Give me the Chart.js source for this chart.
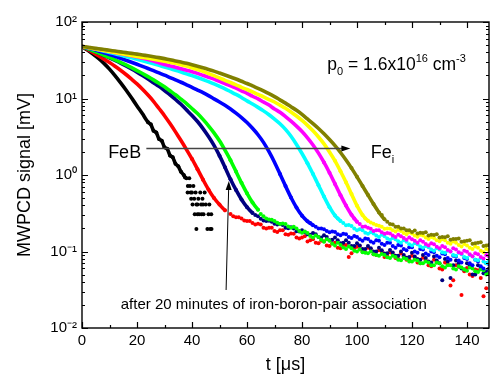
<!DOCTYPE html>
<html>
<head>
<meta charset="utf-8">
<script src="https://cdn.jsdelivr.net/npm/chart.js@4.4.1/dist/chart.umd.min.js"></script>
<style>
  body { margin: 0; background: #fff; }
  canvas { display: block; }
</style>
</head>
<body>
<canvas id="myChart" width="491" height="374"></canvas>
<script>
// time axis in microseconds (shared by all curves except the black one)
const time = [0,2,4,6,8,10,12,14,16,18,20,22,24,26,28,30,32,34,36,38,40,42,44,46,48,50,52,54,56,58,60,62,64,66,68,70,72,74,76,78,80,82,84,86,88,90,92,94,96,98,100,102,104,106,108,110,112,114,116,118,120,122,124,126,128,130,132,134,136,138,140,142,144,146,148];
// extra noisy samples in the flat tails, at the odd microseconds
const tailTime = [55,57,59,61,63,65,67,69,71,73,75,77,79,81,83,85,87,89,91,93,95,97,99,101,103,105,107,109,111,113,115,117,119,121,123,125,127,129,131,133,135,137,139,141,143,145,147];

// black curve has its own time points, the end is the quantized noise cloud
const blackTime = [0,2,4,6,8,10,12,14,16,18,20,22,24,25,26,27,28,29,30,31,32,33,34,35,36,37,37.5,
  38,38.5,39,38.4,39.3,39.7,40,40.2,40.5,40.8,41,41.3,41.6,42,42.3,42.6,43,43.3,43.8,44.2,44.6,45,45.6,46,46.3,46.6,47,47.1,44,41.6,42,39.5,43.5];
const blackSignal = [48,43,38.1,33.4,28.8,24.2,19.9,16.1,12.9,10.2,8.0,6.3,4.9,4.6,3.8,3.6,2.95,2.8,2.3,2.2,1.8,1.7,1.4,1.3,1.1,1.0,0.93,
  0.905,0.72,0.905,0.59,0.72,0.49,0.59,0.41,0.72,0.49,0.306,0.59,0.197,0.41,0.49,0.306,0.59,0.41,0.49,0.306,0.59,0.41,0.197,0.306,0.41,0.197,0.306,0.197,0.41,0.41,0.306,0.59,0.306];

const redSignal = [48,43.8,39.9,36.2,32.7,29.5,26.4,23.4,20.6,17.9,
  15.5,13.2,11.1,9.2,7.4,5.96,4.7,3.66,2.82,2.15,
  1.62,1.19,0.87,0.645,0.5,0.41,0.345,0.31,0.28,0.27,
  0.25,0.235,0.23,0.205,0.205,0.185,0.19,0.168,0.172,0.152,
  0.152,0.135,0.145,0.128,0.136,0.118,0.13,0.11,0.122,0.095,
  0.115,0.1,0.112,0.092,0.104,0.085,0.098,0.082,0.094,0.078,
  0.088,0.072,0.083,0.066,0.078,0.06,0.072,0.036,0.066,0.027,
  0.061,0.048,0.057,0.026,0.052];
const redTail = [0.29,0.28,0.255,0.25,0.225,0.225,0.2,0.205,0.18,0.19,
  0.165,0.17,0.148,0.158,0.14,0.13,0.138,0.12,0.128,0.112,
  0.124,0.085,0.11,0.118,0.098,0.108,0.09,0.1,0.088,0.092,
  0.08,0.087,0.078,0.082,0.07,0.077,0.064,0.072,0.058,0.068,
  0.042,0.063,0.055,0.05,0.058,0.045,0.033];

const navySignal = [48,44.9,42.0,39.2,36.5,33.9,31.4,29.0,26.6,24.3,
  22.1,20.0,18.0,16.1,14.4,12.7,11.2,9.7,8.4,7.1,
  6.0,5.0,4.04,3.18,2.44,1.79,1.26,0.88,0.637,0.479,
  0.38,0.319,0.29,0.255,0.252,0.23,0.228,0.205,0.208,0.184,
  0.19,0.168,0.175,0.155,0.163,0.14,0.152,0.128,0.14,0.118,
  0.128,0.108,0.118,0.1,0.112,0.094,0.105,0.088,0.1,0.083,
  0.096,0.08,0.09,0.074,0.086,0.07,0.08,0.045,0.076,0.06,
  0.07,0.05,0.066,0.052,0.06];
const navyTail = [null,null,null,null,0.3,0.268,0.25,0.245,0.225,0.222,
  0.202,0.2,0.182,0.18,0.165,0.168,0.152,0.155,0.142,0.14,
  0.13,0.13,0.118,0.12,0.108,0.11,0.1,0.104,0.095,0.097,
  0.088,0.09,0.085,0.086,0.078,0.082,0.072,0.076,0.042,0.074,
  0.066,0.07,0.058,0.066,0.05,0.062,0.055];

const greenSignal = [48,44.9,42.1,39.4,36.8,34.4,32.0,29.7,27.5,25.3,
  23.2,21.2,19.3,17.5,15.8,14.2,12.6,11.2,9.8,8.6,
  7.4,6.35,5.33,4.4,3.56,2.8,2.11,1.56,1.11,0.79,
  0.577,0.438,0.352,0.29,0.262,0.25,0.228,0.228,0.204,0.2,
  0.176,0.174,0.152,0.155,0.134,0.138,0.12,0.122,0.108,0.11,
  0.1,0.098,0.095,0.092,0.088,0.09,0.082,0.085,0.077,0.08,
  0.074,0.076,0.07,0.072,0.066,0.07,0.062,0.066,0.058,0.062,
  0.056,0.06,0.054,0.057,0.052];
const greenTail = [null,null,null,null,null,0.31,0.27,0.26,0.238,0.232,
  0.212,0.21,0.185,0.182,0.16,0.162,0.142,0.145,0.126,0.13,
  0.113,0.116,0.102,0.106,0.096,0.1,0.09,0.093,0.084,0.088,
  0.078,0.082,0.074,0.078,0.07,0.074,0.066,0.072,0.064,0.066,
  0.06,0.064,0.058,0.062,0.055,0.058,0.05];

const blueSignal = [48,45.8,43.9,41.8,39.6,37.6,35.6,33.6,31.6,29.8,
  28.0,26.3,24.7,23.1,21.6,20.2,18.8,17.5,16.3,15.1,
  14.0,12.9,11.9,10.9,9.9,9.0,8.15,7.3,6.44,5.64,
  4.85,4.08,3.36,2.67,2.02,1.47,1.03,0.718,0.508,0.375,
  0.294,0.248,0.221,0.2,0.196,0.178,0.18,0.163,0.168,0.15,
  0.155,0.138,0.146,0.13,0.138,0.122,0.13,0.112,0.12,0.104,
  0.114,0.096,0.106,0.09,0.098,0.084,0.092,0.078,0.086,0.072,
  0.08,0.066,0.074,0.06,0.068];
const blueTail = [null,null,null,null,null,null,null,null,null,null,
  null,null,null,null,0.235,0.21,0.2,0.185,0.182,0.168,
  0.17,0.155,0.16,0.145,0.148,0.135,0.14,0.126,0.13,0.118,
  0.122,0.108,0.114,0.1,0.108,0.094,0.1,0.088,0.094,0.082,
  0.088,0.076,0.082,0.07,0.078,0.064,0.07];

const cyanSignal = [48,46.3,44.8,43.2,41.6,40.0,38.5,36.9,35.4,34.0,
  32.5,31.1,29.7,28.4,27.1,25.8,24.6,23.4,22.2,21.0,
  19.9,18.8,17.7,16.6,15.5,14.4,13.4,12.3,11.3,10.3,
  9.3,8.47,7.66,6.89,6.12,5.38,4.68,3.95,3.21,2.51,
  1.91,1.42,1.03,0.736,0.522,0.38,0.295,0.251,0.22,0.215,
  0.19,0.19,0.17,0.172,0.155,0.158,0.142,0.145,0.13,0.134,
  0.12,0.124,0.112,0.114,0.102,0.106,0.096,0.1,0.088,0.092,
  0.082,0.086,0.077,0.074,0.076];
const cyanTail = [null,null,null,null,null,null,null,null,null,null,
  null,null,null,null,null,null,null,null,null,0.27,
  0.235,0.222,0.2,0.195,0.176,0.178,0.162,0.165,0.148,0.15,
  0.136,0.14,0.124,0.128,0.116,0.118,0.106,0.11,0.098,0.102,
  0.09,0.096,0.085,0.09,0.078,0.082,0.07];

const magentaSignal = [48,46.5,45.1,43.7,42.4,41.1,39.8,38.5,37.4,36.2,
  35.1,33.7,32.3,30.9,29.3,27.8,26.7,25.6,24.5,23.4,
  22.4,21.3,20.1,19.0,17.9,16.8,15.7,14.6,13.7,12.6,
  11.7,10.7,9.9,9.0,8.2,7.3,6.6,5.8,5.05,4.35,
  3.7,3.06,2.47,1.93,1.46,1.07,0.764,0.545,0.398,0.302,
  0.245,0.21,0.205,0.185,0.19,0.17,0.172,0.155,0.158,0.142,
  0.145,0.13,0.134,0.12,0.124,0.11,0.114,0.1,0.106,0.094,
  0.099,0.087,0.092,0.081,0.086];
const magentaTail = [null,null,null,null,null,null,null,null,null,null,
  null,null,null,null,null,null,null,null,null,null,
  null,null,0.27,0.228,0.212,0.198,0.19,0.178,0.175,0.162,
  0.165,0.15,0.152,0.138,0.14,0.125,0.128,0.115,0.118,0.105,
  0.11,0.098,0.102,0.092,0.095,0.085,0.09];

const yellowSignal = [48,46.5,45.1,43.8,42.5,41.2,40.0,38.8,37.7,36.6,
  35.5,34.5,33.6,32.6,31.7,30.8,29.8,28.8,27.7,26.5,
  25.2,23.9,22.6,21.2,19.9,18.6,17.3,16.2,15.1,14.0,
  13.1,12.2,11.3,10.5,9.7,9.0,8.2,7.45,6.67,5.9,
  5.16,4.46,3.78,3.14,2.55,2.0,1.53,1.12,0.805,0.564,
  0.397,0.3,0.252,0.23,0.217,0.198,0.2,0.182,0.186,0.168,
  0.172,0.156,0.162,0.146,0.15,0.136,0.14,0.126,0.13,0.116,
  0.12,0.108,0.112,0.098,0.104];
const yellowTail = [null,null,null,null,null,null,null,null,null,null,
  null,null,null,null,null,null,null,null,null,null,
  null,null,null,null,0.27,0.24,0.222,0.21,0.2,0.19,
  0.192,0.175,0.178,0.162,0.166,0.152,0.155,0.14,0.145,0.13,
  0.135,0.122,0.125,0.112,0.116,0.102,0.108];

const oliveSignal = [48,46.8,45.7,44.7,43.7,42.7,41.7,40.7,39.8,38.9,
  38.0,37.1,36.2,35.2,34.2,33.2,32.1,31.0,29.9,28.8,
  27.6,26.4,25.2,24.0,22.8,21.5,20.3,19.1,18.0,16.8,
  15.7,14.6,13.6,12.6,11.6,10.6,9.6,8.7,7.8,7.0,
  6.2,5.4,4.7,4.06,3.46,2.91,2.42,1.97,1.57,1.23,
  0.946,0.72,0.547,0.417,0.324,0.263,0.229,0.21,0.2,0.19,
  0.18,0.172,0.174,0.162,0.164,0.152,0.154,0.142,0.146,0.134,
  0.138,0.126,0.13,0.118,0.122];
const oliveTail = [null,null,null,null,null,null,null,null,null,null,
  null,null,null,null,null,null,null,null,null,null,
  null,null,null,null,null,null,null,0.3,0.245,0.225,
  0.21,0.2,0.19,0.188,0.176,0.178,0.165,0.168,0.155,0.158,
  0.146,0.148,0.136,0.14,0.128,0.132,0.12];

// axis ticks
const xTickValues = [0, 20, 40, 60, 80, 100, 120, 140];
const xTickLabels = ['0', '20', '40', '60', '80', '100', '120', '140'];
const yTickValues = [0.01, 0.1, 1, 10, 100];
const yTickLabels = ['10⁻²', '10⁻¹', '10⁰', '10¹', '10²'];

const FONT = "'Liberation Sans', Arial, sans-serif";
Chart.defaults.font.family = FONT;
Chart.defaults.color = '#000';

// thick line where the decay is smooth, single dots where it gets noisy
function makeSet(name, xs, ys, color, lineEnd, dotStart, order) {
  return {
    label: name,
    data: xs.map((t, i) => ({ x: t, y: ys[i] })),
    borderColor: color,
    backgroundColor: color,
    pointBackgroundColor: color,
    borderWidth: 3.6,
    borderCapStyle: 'round',
    pointBorderWidth: 0,
    pointRadius: ctx => (ctx.raw && ctx.raw.x >= dotStart ? 2 : 0),
    pointHoverRadius: 0,
    tension: 0.25,
    segment: {
      borderColor: ctx => (ctx.p1.parsed.x > lineEnd ? 'rgba(0,0,0,0)' : color)
    },
    order: order
  };
}

function makeTail(name, ys, color, order) {
  return {
    label: name + ' tail',
    data: tailTime.map((t, i) => ({ x: t, y: ys[i] })),
    showLine: false,
    borderColor: color,
    backgroundColor: color,
    pointBackgroundColor: color,
    pointBorderWidth: 0,
    pointRadius: 2,
    pointHoverRadius: 0,
    order: order
  };
}

const datasets = [
  makeSet('black', blackTime, blackSignal, '#000000', 37.5, 24, 8),
  makeSet('red', time, redSignal, '#ff0000', 52, 40, 7),
  makeTail('red', redTail, '#ff0000', 7),
  makeSet('navy', time, navySignal, '#000080', 62, 50, 6),
  makeTail('navy', navyTail, '#000080', 6),
  makeSet('green', time, greenSignal, '#00ff00', 64, 54, 5),
  makeTail('green', greenTail, '#00ff00', 5),
  makeSet('blue', time, blueSignal, '#0000ff', 84, 72, 4),
  makeTail('blue', blueTail, '#0000ff', 4),
  makeSet('cyan', time, cyanSignal, '#00ffff', 94, 82, 3),
  makeTail('cyan', cyanTail, '#00ffff', 3),
  makeSet('magenta', time, magentaSignal, '#ff00ff', 100, 88, 2),
  makeTail('magenta', magentaTail, '#ff00ff', 2),
  makeSet('yellow', time, yellowSignal, '#ffff00', 104, 92, 1),
  makeTail('yellow', yellowTail, '#ffff00', 1),
  makeSet('olive', time, oliveSignal, '#808000', 110, 98, 0),
  makeTail('olive', oliveTail, '#808000', 0)
];

// text and arrows, anchored in data coordinates
const notes = {
  conc: { x: 89.2, y: 23.6 },
  feb: { x: 9.5, y: 1.69 },
  fei: { x: 105, y: 1.69 },
  arrowH: { x0: 23.4, x1: 97.6, y: 2.27 },
  arrowV: { x0: 52.4, y0: 0.0314, x1: 53.4, y1: 0.835 },
  after: { x: 14.1, y: 0.02 }
};

function richText(ctx, parts, x, y, big, small) {
  for (const [s, kind] of parts) {
    ctx.font = (kind === 'n' ? big : small) + 'px ' + FONT;
    const dy = kind === 'sup' ? -8 : kind === 'sub' ? 5 : 0;
    ctx.fillText(s, x, y + dy);
    x += ctx.measureText(s).width;
  }
}

function arrow(ctx, xa, ya, xb, yb, head, half) {
  const ang = Math.atan2(yb - ya, xb - xa);
  ctx.beginPath();
  ctx.moveTo(xa, ya);
  ctx.lineTo(xb - Math.cos(ang) * head * 0.8, yb - Math.sin(ang) * head * 0.8);
  ctx.stroke();
  ctx.beginPath();
  ctx.moveTo(xb, yb);
  ctx.lineTo(xb - Math.cos(ang) * head - Math.sin(ang) * half, yb - Math.sin(ang) * head + Math.cos(ang) * half);
  ctx.lineTo(xb - Math.cos(ang) * head + Math.sin(ang) * half, yb - Math.sin(ang) * head - Math.cos(ang) * half);
  ctx.closePath();
  ctx.fill();
}

const decorations = {
  id: 'decorations',
  afterDatasetsDraw(chart) {
    const { ctx, chartArea: a, scales: { x, y } } = chart;
    ctx.save();

    // frame
    ctx.strokeStyle = '#000';
    ctx.lineWidth = 1.4;
    ctx.strokeRect(a.left, a.top, a.right - a.left, a.bottom - a.top);

    // inward ticks
    ctx.lineWidth = 1.2;
    ctx.beginPath();
    for (let t = 0; t <= x.max; t += 10) {
      const px = Math.round(x.getPixelForValue(t)) + 0.5;
      const len = t % 20 === 0 ? 6 : 3;
      ctx.moveTo(px, a.bottom); ctx.lineTo(px, a.bottom - len);
      ctx.moveTo(px, a.top); ctx.lineTo(px, a.top + len);
    }
    for (let e = -2; e <= 2; e++) {
      for (let m = 1; m <= 9; m++) {
        const v = m * Math.pow(10, e);
        if (v > 100) break;
        const py = Math.round(y.getPixelForValue(v)) + 0.5;
        const len = m === 1 ? 6 : 3;
        ctx.moveTo(a.left, py); ctx.lineTo(a.left + len, py);
        ctx.moveTo(a.right, py); ctx.lineTo(a.right - len, py);
      }
    }
    ctx.stroke();

    ctx.fillStyle = '#000';
    ctx.textBaseline = 'alphabetic';
    ctx.textAlign = 'left';

    // p0 = 1.6x10^16 cm^-3
    richText(ctx, [['p', 'n'], ['0', 'sub'], [' = 1.6x10', 'n'], ['16', 'sup'], [' cm', 'n'], ['-3', 'sup']],
      x.getPixelForValue(notes.conc.x), y.getPixelForValue(notes.conc.y), 17.5, 11);

    // FeB -> Fe_i
    const yb = y.getPixelForValue(notes.feb.y);
    richText(ctx, [['FeB', 'n']], x.getPixelForValue(notes.feb.x), yb, 18, 11);
    richText(ctx, [['Fe', 'n'], ['i', 'sub']], x.getPixelForValue(notes.fei.x), yb, 18, 11);

    ctx.strokeStyle = '#444';
    ctx.lineWidth = 1.3;
    const ha = Math.round(y.getPixelForValue(notes.arrowH.y)) + 0.5;
    arrow(ctx, x.getPixelForValue(notes.arrowH.x0), ha, x.getPixelForValue(notes.arrowH.x1), ha, 9, 3);

    ctx.strokeStyle = '#000';
    ctx.lineWidth = 1;
    arrow(ctx, x.getPixelForValue(notes.arrowV.x0), y.getPixelForValue(notes.arrowV.y0),
      x.getPixelForValue(notes.arrowV.x1), y.getPixelForValue(notes.arrowV.y1), 9, 3);

    ctx.textBaseline = 'middle';
    ctx.font = '15px ' + FONT;
    ctx.fillText('after 20 minutes of iron-boron-pair association',
      x.getPixelForValue(notes.after.x), y.getPixelForValue(notes.after.y));

    ctx.restore();
  }
};

let myChart;

document.addEventListener('DOMContentLoaded', () => {
  const ctx = document.getElementById('myChart').getContext('2d');
  myChart = new Chart(ctx, {
    type: 'line',
    data: { datasets: datasets },
    options: {
      responsive: false,
      animation: false,
      layout: { padding: { top: 22, right: 0, left: 0, bottom: 0 } },
      plugins: { legend: { display: false }, tooltip: { enabled: false } },
      scales: {
        x: {
          type: 'linear',
          min: 0,
          max: 148,
          grid: { display: false, drawTicks: false },
          border: { display: false },
          afterBuildTicks: s => { s.ticks = xTickValues.map(v => ({ value: v })); },
          afterFit: s => { s.height = 46; },
          ticks: {
            autoSkip: false,
            maxRotation: 0,
            padding: 4,
            font: { size: 15 },
            callback: (v, i) => xTickLabels[i]
          },
          title: {
            display: true,
            text: 't [μs]',
            font: { size: 18 },
            padding: { top: 0, bottom: -2 }
          }
        },
        y: {
          type: 'logarithmic',
          min: 0.01,
          max: 100,
          grid: { display: false, drawTicks: false },
          border: { display: false },
          afterBuildTicks: s => { s.ticks = yTickValues.map(v => ({ value: v })); },
          afterFit: s => { s.width = 82; },
          ticks: {
            autoSkip: false,
            padding: 5,
            font: { size: 15 },
            callback: (v, i) => yTickLabels[i]
          },
          title: {
            display: true,
            text: 'MWPCD signal [mV]',
            font: { size: 18 },
            padding: { top: 14, bottom: 0 }
          }
        }
      }
    },
    plugins: [decorations]
  });
});
</script>
</body>
</html>
